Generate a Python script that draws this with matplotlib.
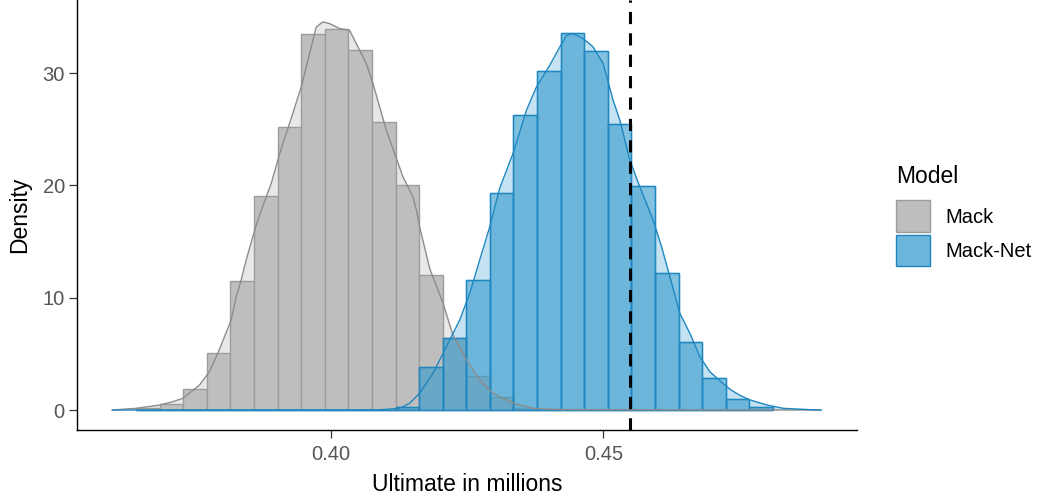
import matplotlib
matplotlib.use("Agg")
import matplotlib.pyplot as plt
from matplotlib.patches import Patch
import numpy as np

plt.rcParams['font.family'] = ['Liberation Sans', 'DejaVu Sans']

# ---- data ----
bin_start = 0.36437      # left edge of first bin (millions)
bin_width = 0.004321
mack_hist = [0.15, 0.5, 1.85, 5.05, 11.5, 19.05, 25.2, 33.5, 33.9, 32.05, 25.65,
             20.0, 12.0, 6.4, 3.0, 1.13, 0.15, 0, 0, 0, 0, 0, 0, 0, 0, 0, 0]
macknet_hist = [0, 0, 0, 0, 0, 0, 0, 0, 0, 0, 0,
                0.3, 3.85, 6.45, 11.6, 19.35, 26.3, 30.2, 33.6, 31.95, 25.5,
                19.9, 12.2, 6.05, 2.85, 0.97, 0.3]

mack_dens_x = [0.36002, 0.36437, 0.36864, 0.37108, 0.37291, 0.37598, 0.37781, 0.37933,
               0.38056, 0.38179, 0.38271, 0.38362, 0.38454, 0.38575, 0.38667, 0.38821,
               0.38913, 0.39034, 0.39125, 0.39248, 0.39463, 0.39615, 0.39738, 0.39859,
               0.39982, 0.40165, 0.40348, 0.40471, 0.40655, 0.40776, 0.40899, 0.41021,
               0.41174, 0.41326, 0.41509, 0.41572, 0.41632, 0.41816, 0.42059, 0.42243,
               0.42489, 0.42732, 0.42976, 0.43343, 0.43710, 0.44200, 0.48986]
mack_dens_y = [0.0, 0.15, 0.44, 0.74, 1.04, 2.22, 3.41, 5.04,
               6.52, 8.01, 10.08, 11.57, 13.35, 15.42, 16.90, 18.98,
               20.17, 22.24, 23.73, 25.51, 28.76, 31.73, 34.10, 34.55,
               34.40, 33.96, 33.81, 32.62, 30.84, 29.07, 26.98, 24.91,
               22.84, 20.76, 18.98, 17.79, 16.31, 12.6, 9.52, 6.67,
               4.45, 2.67, 1.49, 0.60, 0.15, 0.04, 0.0]

macknet_dens_x = [0.36002, 0.40899, 0.41265, 0.41449, 0.41632, 0.41876, 0.42122, 0.42366,
                  0.42549, 0.42732, 0.42916, 0.43099, 0.43343, 0.43589, 0.43772, 0.44016,
                  0.44200, 0.44322, 0.44443, 0.44627, 0.44810, 0.44994, 0.45177, 0.45300,
                  0.45483, 0.45666, 0.45911, 0.46065, 0.46217, 0.46400, 0.46584, 0.46767,
                  0.46951, 0.47134, 0.47318, 0.47501, 0.47684, 0.47990, 0.48295, 0.48784,
                  0.48986]
macknet_dens_y = [0.0, 0.02, 0.15, 0.60, 1.49, 3.27, 5.63, 8.01,
                  10.38, 13.35, 16.31, 19.75, 22.84, 26.69, 28.76, 30.69,
                  32.32, 33.36, 33.51, 33.07, 32.32, 30.85, 27.58, 25.80,
                  22.24, 19.87, 16.90, 14.53, 11.86, 8.60, 6.82, 4.74,
                  3.4, 2.6, 1.85, 1.3, 0.9, 0.45, 0.15, 0.03,
                  0.0]

reference_ultimate = 0.4549
models = ["Mack", "Mack-Net"]
x_ticks = [0.40, 0.45]
x_ticklabels = ["0.40", "0.45"]
y_ticks = [0, 10, 20, 30]

# ---- styling ----
gray_fill, gray_edge, gray_line = "#BEBEBE", "#9C9C9C", "#8C8C8C"
blue_fill, blue_edge, blue_line = "#3199CE", "#1F87C0", "#1F87C0"
blue_key = "#6CB6DB"

fig = plt.figure(figsize=(10.42, 5.03), dpi=100)
ax = fig.add_axes([0.0742, 0.1451, 0.7483, 0.8549])

edges = bin_start + bin_width * np.arange(len(mack_hist))

# density fills (behind bars)
ax.fill_between(mack_dens_x, mack_dens_y, 0, color=gray_fill, alpha=0.35, lw=0, zorder=1)
ax.fill_between(macknet_dens_x, macknet_dens_y, 0, color="#6CB7DC", alpha=0.4, lw=0, zorder=1)

# histograms
ax.bar(edges, mack_hist, width=bin_width, align='edge', color=gray_fill,
       edgecolor=gray_edge, linewidth=1.0, zorder=2)
ax.bar(edges, macknet_hist, width=bin_width, align='edge', color=blue_fill, alpha=0.6,
       edgecolor=blue_edge, linewidth=1.0, zorder=3)
# crisp blue outlines
ax.bar(edges, macknet_hist, width=bin_width, align='edge', fill=False,
       edgecolor=blue_edge, linewidth=1.0, zorder=3.5)

# density lines
ax.plot(mack_dens_x, mack_dens_y, color=gray_line, lw=1.0, zorder=4)
ax.plot(macknet_dens_x, macknet_dens_y, color=blue_line, lw=1.0, zorder=5)

# reference line
ax.axvline(reference_ultimate, color="black", lw=2.2, dashes=(4, 3), zorder=6)

ax.set_xlim(0.3536, 0.49646)
ax.set_ylim(-1.78, 36.5)
ax.set_xticks(x_ticks)
ax.set_xticklabels(x_ticklabels)
ax.set_yticks(y_ticks)

for s in ["top", "right"]:
    ax.spines[s].set_visible(False)
for s in ["left", "bottom"]:
    ax.spines[s].set_linewidth(1.0)
    ax.spines[s].set_color("black")
ax.tick_params(axis='both', length=5.5, width=0.9, color="#333333",
               labelsize=14.5, labelcolor="#555555")
ax.tick_params(axis='x', pad=5)
ax.tick_params(axis='y', pad=3.5)

ax.set_xlabel("Ultimate in millions", fontsize=16.5, color="black", labelpad=7)
ax.set_ylabel("Density", fontsize=16.5, color="black", labelpad=8)

handles = [Patch(facecolor=gray_fill, edgecolor=gray_edge, linewidth=1.0),
           Patch(facecolor=blue_key, edgecolor=blue_edge, linewidth=1.0)]
leg = fig.legend(handles, models, title="Model", loc="upper left",
                 bbox_to_anchor=(0.860, 0.672), frameon=False,
                 fontsize=14.5, title_fontsize=16.5, alignment='left',
                 handlelength=1.7, handleheight=2.05, labelspacing=0.12,
                 handletextpad=0.75, borderpad=0, borderaxespad=0)
leg._legend_box.sep = 9.0   # gap between title and keys (points)

fig.savefig("out.png", dpi=100)
